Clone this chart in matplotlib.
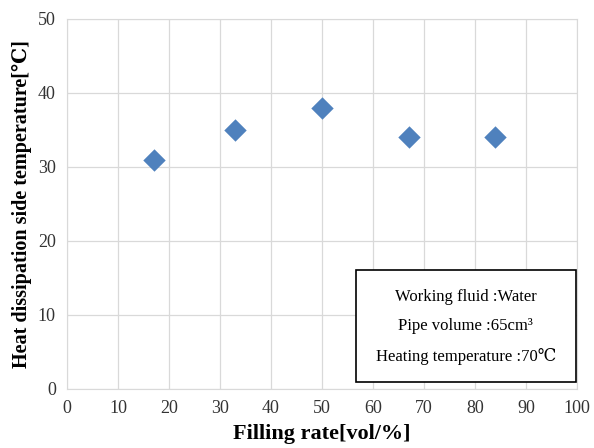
import matplotlib.pyplot as plt
from matplotlib.patches import Rectangle

# filling rate vs heat dissipation side temperature
filling_rate = [17, 33, 50, 67, 84]
temperature = [31, 35, 38, 34, 34]

x_ticks = [0, 10, 20, 30, 40, 50, 60, 70, 80, 90, 100]
y_ticks = [0, 10, 20, 30, 40, 50]

info_lines = ["Working fluid :Water",
              "Pipe volume :65cm\u00b3",
              "Heating temperature :70\u2103"]

plt.rcParams['font.family'] = ['Liberation Serif', 'DejaVu Serif']

fig = plt.figure(figsize=(5.94, 4.48), dpi=100)
ax = fig.add_axes([0.1128, 0.1317, 0.8586, 0.8259])

ax.scatter(filling_rate, temperature, marker='D', s=130, color='#4F81BD',
           zorder=3, linewidths=0)

ax.set_xlim(0, 100)
ax.set_ylim(0, 50)
ax.set_xticks(x_ticks)
ax.set_yticks(y_ticks)
ax.grid(True, color='#d9d9d9', linewidth=0.9)
ax.set_axisbelow(True)
for s in ax.spines.values():
    s.set_color('#d9d9d9')
ax.tick_params(length=0, labelsize=13, pad=8)
for lbl in ax.get_xticklabels() + ax.get_yticklabels():
    lbl.set_color('#333333')

ax.set_xlabel('Filling rate[vol/%]', fontsize=16, fontweight='bold', labelpad=5)
ax.set_ylabel('Heat dissipation side temperature[\u2103]', fontsize=14.5,
              fontweight='bold', labelpad=4)

# info box
box = Rectangle((0.567, 0.019), 0.431, 0.303, transform=ax.transAxes,
                facecolor='white', edgecolor='black', linewidth=1.2, zorder=4)
ax.add_patch(box)
for i, line in enumerate(info_lines):
    ax.text(0.782, 0.249 - i * 0.08, line, transform=ax.transAxes,
            ha='center', va='center', fontsize=12, zorder=5)

fig.savefig('out.png', dpi=100)
